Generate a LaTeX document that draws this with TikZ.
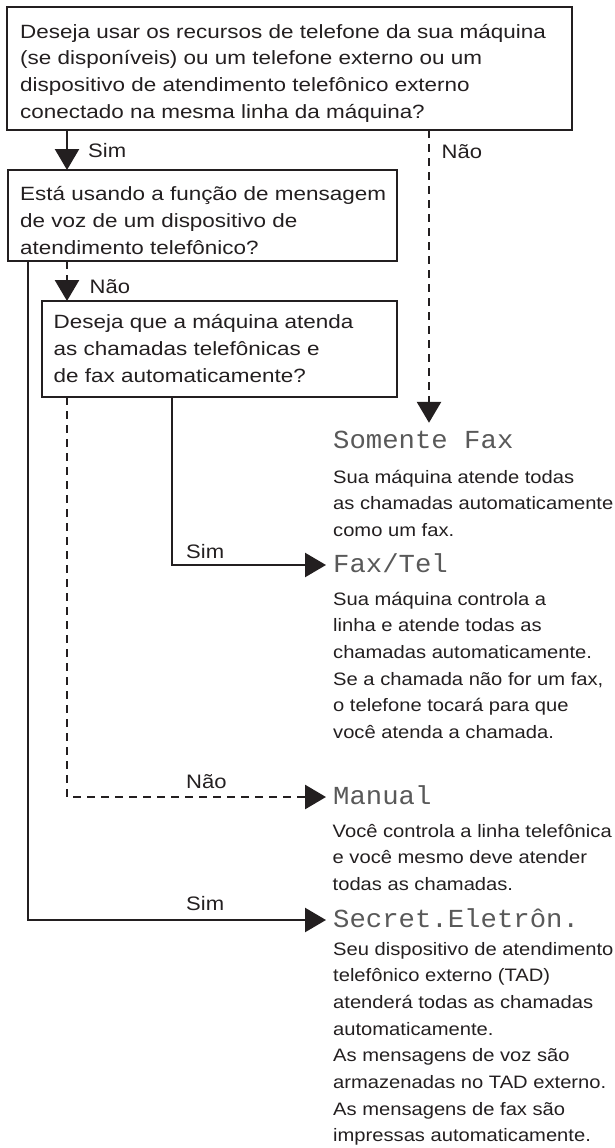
\documentclass[tikz,border=0pt]{standalone}
\usepackage{fontspec}
\usetikzlibrary{arrows.meta}
\newfontfamily\boxfont[FakeStretch=1.17]{Liberation Sans}
\newfontfamily\descfont[FakeStretch=1.12]{Liberation Sans}
\newfontfamily\lblfont[FakeStretch=1.13]{Liberation Sans}
\newfontfamily\lcdfont[FakeStretch=1.05]{Liberation Mono}
\definecolor{ink}{HTML}{231F20}
\tikzset{
  qbox/.style={draw=ink, line width=1.3pt, inner sep=0pt, outer sep=0pt, anchor=north west},
  qtext/.style={anchor=base west, inner sep=0pt, text=ink, font=\boxfont\fontsize{19.2}{27}\selectfont},
  dtext/.style={anchor=base west, inner sep=0pt, text=ink, font=\descfont\fontsize{18}{26.7}\selectfont},
  lbl/.style={anchor=base west, inner sep=0pt, text=ink, font=\lblfont\fontsize{19.5}{24}\selectfont},
  title/.style={anchor=west, inner xsep=7pt, inner ysep=0pt, text height=15pt, text depth=0pt, text=black!65, font=\lcdfont\fontsize{26}{30}\selectfont},
  solidarr/.style={draw=ink, line width=2.5pt, -{Triangle[length=21pt,width=24pt]}},
  dasharr/.style={draw=ink, line width=2.8pt, dash pattern=on 8pt off 6pt, -{Triangle[length=21pt,width=24pt]}}
}
\begin{document}
\begin{tikzpicture}[x=1pt, y=-1pt]
\useasboundingbox (0,0) rectangle (614,1148);
% question boxes
\node[qbox, minimum width=565pt, minimum height=123pt] (b1) at (7,7) {};
\node[qbox, minimum width=389pt, minimum height=91pt] (b2) at (8,170) {};
\node[qbox, minimum width=355pt, minimum height=96pt] (b3) at (42,301) {};
\node[qtext] (t1) at (20,38) {\parbox[t]{560pt}{\raggedright Deseja usar os recursos de telefone da sua máquina\\(se disponíveis) ou um telefone externo ou um\\dispositivo de atendimento telefônico externo\\conectado na mesma linha da máquina?}};
\node[qtext] (t2) at (20,200) {\parbox[t]{380pt}{\raggedright Está usando a função de mensagem\\de voz de um dispositivo de\\atendimento telefônico?}};
\node[qtext] (t3) at (53.5,328) {\parbox[t]{340pt}{\raggedright Deseja que a máquina atenda\\as chamadas telefônicas e\\de fax automaticamente?}};
% results
\node[title] (somente) at (326,440.5) {Somente Fax};
\node[title] (faxtel) at (326,565) {Fax/Tel};
\node[title] (manual) at (326,797) {Manual};
\node[title] (secret) at (326,920) {Secret.Eletrôn.};
\node[dtext] (d1) at (333,483) {\parbox[t]{400pt}{\raggedright Sua máquina atende todas\\as chamadas automaticamente\\como um fax.}};
\node[dtext] (d2) at (333,605) {\parbox[t]{400pt}{\raggedright Sua máquina controla a\\linha e atende todas as\\chamadas automaticamente.\\Se a chamada não for um fax,\\o telefone tocará para que\\você atenda a chamada.}};
\node[dtext] (d3) at (332.5,837) {\parbox[t]{400pt}{\raggedright Você controla a linha telefônica\\e você mesmo deve atender\\todas as chamadas.}};
\node[dtext] (d4) at (333,955) {\parbox[t]{400pt}{\raggedright Seu dispositivo de atendimento\\telefônico externo (TAD)\\atenderá todas as chamadas\\automaticamente.\\As mensagens de voz são\\armazenadas no TAD externo.\\As mensagens de fax são\\impressas automaticamente.}};
% connector columns
\coordinate (xa) at (67,0);
\coordinate (xb) at (429,0);
\coordinate (xc) at (28,0);
\coordinate (xd) at (172,0);
% connectors
\draw[solidarr] (b1.south -| xa) -- (b2.north -| xa);
\draw[dasharr, shorten >=10pt] (b1.south -| xb) -- (somente.north -| xb);
\draw[dasharr] (b2.south -| xa) -- (b3.north -| xa);
\draw[solidarr] (b2.south -| xc) |- (secret.west);
\draw[dasharr] (b3.south -| xa) |- (manual.west);
\draw[solidarr] (b3.south -| xd) |- (faxtel.west);
% labels
\node[lbl] (l1) at (88,157) {Sim};
\node[lbl] (l2) at (441.5,158) {Não};
\node[lbl] (l3) at (89.5,293) {Não};
\node[lbl] (l4) at (186,558) {Sim};
\node[lbl] (l5) at (186,788) {Não};
\node[lbl] (l6) at (186,910) {Sim};
\end{tikzpicture}
\end{document}
